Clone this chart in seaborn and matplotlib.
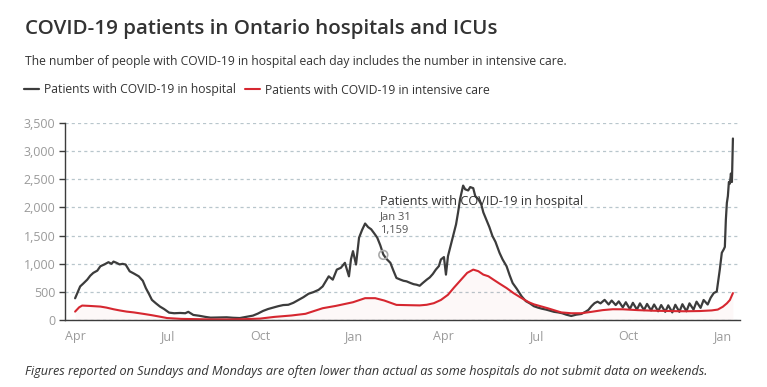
import pandas as pd
import matplotlib.pyplot as plt
import matplotlib.ticker as mticker
import seaborn as sns

# --- data ---
hosp_dates = [
    "2020-04-01", "2020-04-06", "2020-04-09", "2020-04-13", "2020-04-16", "2020-04-19",
    "2020-04-23", "2020-04-26", "2020-04-30", "2020-05-04", "2020-05-07", "2020-05-09",
    "2020-05-12", "2020-05-15", "2020-05-18", "2020-05-21", "2020-05-25", "2020-05-29",
    "2020-06-03", "2020-06-07", "2020-06-10", "2020-06-13", "2020-06-16", "2020-06-20",
    "2020-06-24", "2020-06-28", "2020-07-03", "2020-07-08", "2020-07-14", "2020-07-19",
    "2020-07-22", "2020-07-27", "2020-08-02", "2020-08-08", "2020-08-13", "2020-08-20",
    "2020-08-29", "2020-09-04", "2020-09-11", "2020-09-17", "2020-09-24", "2020-09-29",
    "2020-10-04", "2020-10-09", "2020-10-14", "2020-10-19", "2020-10-24", "2020-10-29",
    "2020-11-03", "2020-11-08", "2020-11-13", "2020-11-18", "2020-11-23", "2020-11-28",
    "2020-12-02", "2020-12-08", "2020-12-12", "2020-12-16", "2020-12-20", "2020-12-24",
    "2020-12-28", "2020-12-30", "2021-01-01", "2021-01-04", "2021-01-07", "2021-01-10",
    "2021-01-13", "2021-01-16", "2021-01-19", "2021-01-22", "2021-01-25", "2021-01-28",
    "2021-01-31", "2021-02-03", "2021-02-07", "2021-02-10", "2021-02-13", "2021-02-17",
    "2021-02-20", "2021-02-23", "2021-02-27", "2021-03-02", "2021-03-05", "2021-03-08",
    "2021-03-11", "2021-03-15", "2021-03-18", "2021-03-21", "2021-03-24", "2021-03-27",
    "2021-03-29", "2021-04-01", "2021-04-03", "2021-04-05", "2021-04-08", "2021-04-10",
    "2021-04-13", "2021-04-15", "2021-04-17", "2021-04-20", "2021-04-22", "2021-04-25",
    "2021-04-27", "2021-04-30", "2021-05-02", "2021-05-05", "2021-05-08", "2021-05-10",
    "2021-05-13", "2021-05-16", "2021-05-19", "2021-05-22", "2021-05-26", "2021-05-29",
    "2021-06-02", "2021-06-05", "2021-06-08", "2021-06-12", "2021-06-17", "2021-06-21",
    "2021-06-25", "2021-06-29", "2021-07-03", "2021-07-07", "2021-07-11", "2021-07-15",
    "2021-07-19", "2021-07-23", "2021-07-27", "2021-07-31", "2021-08-05", "2021-08-10",
    "2021-08-15", "2021-08-19", "2021-08-22", "2021-08-25", "2021-08-28", "2021-08-31",
    "2021-09-03", "2021-09-07", "2021-09-11", "2021-09-14", "2021-09-18", "2021-09-21",
    "2021-09-25", "2021-09-28", "2021-10-02", "2021-10-05", "2021-10-09", "2021-10-12",
    "2021-10-16", "2021-10-19", "2021-10-23", "2021-10-26", "2021-10-30", "2021-11-02",
    "2021-11-06", "2021-11-09", "2021-11-13", "2021-11-16", "2021-11-20", "2021-11-23",
    "2021-11-27", "2021-11-30", "2021-12-04", "2021-12-07", "2021-12-11", "2021-12-14",
    "2021-12-18", "2021-12-21", "2021-12-24", "2021-12-27", "2021-12-30", "2022-01-01",
    "2022-01-03", "2022-01-04", "2022-01-05", "2022-01-06", "2022-01-07", "2022-01-08",
    "2022-01-09", "2022-01-10", "2022-01-11", "2022-01-12",
]
hosp_values = [
    390, 600, 650, 720, 790, 840,
    880, 957, 990, 1029, 1000, 1040,
    1018, 990, 1000, 988, 868, 830,
    779, 700, 571, 470, 362, 300,
    243, 200, 136, 125, 130, 125,
    150, 95, 80, 60, 47, 50,
    53, 45, 40, 60, 83, 120,
    166, 200, 225, 250, 270, 275,
    310, 360, 410, 470, 500, 540,
    600, 779, 720, 898, 930, 1018,
    779, 1080, 1225, 988, 1464, 1600,
    1714, 1650, 1612, 1540, 1464, 1330,
    1166, 1090, 1018, 880, 750, 720,
    700, 690, 660, 640, 630, 612,
    660, 720, 760, 820, 898, 960,
    1077, 1120, 809, 1136, 1350, 1493,
    1700, 1911, 2150, 2386, 2320, 2300,
    2360, 2340, 2200, 2148, 2050, 1911,
    1780, 1650, 1493, 1390, 1196, 1080,
    957, 800, 660, 560, 422, 340,
    300, 250, 225, 205, 190, 170,
    150, 140, 125, 100, 77, 100,
    112, 150, 184, 250, 303, 330,
    300, 362, 280, 350, 270, 335,
    230, 320, 200, 310, 190, 300,
    180, 290, 175, 280, 160, 270,
    150, 265, 140, 275, 150, 285,
    160, 300, 190, 330, 220, 360,
    280, 400, 482, 510, 898, 1196,
    1260, 1300, 1780, 2080, 2200, 2450,
    2420, 2600, 2450, 3220,
]

icu_dates = [
    "2020-04-01", "2020-04-05", "2020-04-08", "2020-04-15", "2020-04-26", "2020-05-02",
    "2020-05-09", "2020-05-15", "2020-05-22", "2020-05-29", "2020-06-08", "2020-06-16",
    "2020-06-24", "2020-07-01", "2020-07-15", "2020-08-01", "2020-08-15", "2020-09-01",
    "2020-09-15", "2020-10-01", "2020-10-15", "2020-11-01", "2020-11-15", "2020-12-02",
    "2020-12-15", "2021-01-01", "2021-01-13", "2021-01-23", "2021-02-01", "2021-02-13",
    "2021-02-25", "2021-03-08", "2021-03-15", "2021-03-22", "2021-03-29", "2021-04-05",
    "2021-04-11", "2021-04-18", "2021-04-24", "2021-04-30", "2021-05-05", "2021-05-10",
    "2021-05-15", "2021-05-20", "2021-05-26", "2021-06-02", "2021-06-09", "2021-06-17",
    "2021-06-24", "2021-06-29", "2021-07-13", "2021-07-26", "2021-08-05", "2021-08-15",
    "2021-08-25", "2021-09-05", "2021-09-15", "2021-09-25", "2021-10-10", "2021-10-25",
    "2021-11-10", "2021-11-25", "2021-12-10", "2021-12-22", "2021-12-28", "2022-01-02",
    "2022-01-06", "2022-01-09", "2022-01-12",
]
icu_values = [
    154, 230, 261, 255, 243, 225,
    196, 175, 154, 140, 113, 90,
    64, 40, 25, 20, 15, 15,
    20, 30, 60, 85, 115, 214,
    255, 320, 392, 392, 350, 273,
    268, 264, 275, 303, 360, 452,
    580, 720, 840, 898, 870, 809,
    780, 720, 650, 571, 480, 392,
    320, 283, 212, 140, 125, 125,
    150, 180, 196, 195, 180, 170,
    164, 160, 164, 175, 190, 240,
    300, 360, 482,
]

tick_dates = ["2020-04-01", "2020-07-01", "2020-10-01", "2021-01-01",
              "2021-04-01", "2021-07-01", "2021-10-01", "2022-01-01"]
tick_labels = ["Apr", "Jul", "Oct", "Jan", "Apr", "Jul", "Oct", "Jan"]
y_ticks = [0, 500, 1000, 1500, 2000, 2500, 3000, 3500]

hover_date = "2021-01-31"
hover_value = 1159

hosp = pd.DataFrame({"date": pd.to_datetime(hosp_dates), "value": hosp_values})
icu = pd.DataFrame({"date": pd.to_datetime(icu_dates), "value": icu_values})

DARK = "#3c3c3c"
RED = "#d62730"
TXT = "#333333"
GREY = "#9a9a9a"

sns.set_theme(style="white")
plt.rcParams["font.family"] = ["Open Sans", "DejaVu Sans"]

fig = plt.figure(figsize=(7.67, 3.87), dpi=100)
ax = fig.add_axes([65 / 767, 1 - 320.3 / 387, 675 / 767, 197.6 / 387])

ax.fill_between(icu["date"], icu["value"], 0, color=RED, alpha=0.03, lw=0)
sns.lineplot(data=hosp, x="date", y="value", ax=ax, color=DARK, lw=1.6,
             label="Patients with COVID-19 in hospital")
sns.lineplot(data=icu, x="date", y="value", ax=ax, color=RED, lw=1.5,
             label="Patients with COVID-19 in intensive care")

ax.set_xlim(pd.Timestamp("2020-03-22"), pd.Timestamp("2022-01-19"))
ax.set_ylim(0, 3500)
ax.set_xlabel("")
ax.set_ylabel("")

ax.set_yticks(y_ticks)
ax.yaxis.set_major_formatter(mticker.FuncFormatter(lambda v, p: f"{int(v):,}"))
ax.set_xticks(pd.to_datetime(tick_dates))
ax.set_xticklabels(tick_labels)
ax.tick_params(axis="y", which="major", left=True, length=4, width=1, color=DARK,
               labelsize=9, labelcolor=GREY, pad=3)
ax.tick_params(axis="x", which="major", bottom=False, labelsize=9, labelcolor=GREY, pad=1)

ax.grid(axis="y", color="#b8c6cc", lw=0.9, ls=(0, (2.5, 2.5)))
ax.grid(axis="x", visible=False)
for s in ["top", "right"]:
    ax.spines[s].set_visible(False)
for s in ["left", "bottom"]:
    ax.spines[s].set_color(DARK)
    ax.spines[s].set_linewidth(1)

# hover annotation
hx = pd.Timestamp(hover_date)
ax.scatter([hx], [hover_value], s=40, facecolors="none", edgecolors="#aaaaaa", lw=1.2, zorder=5)
ax.annotate("Patients with COVID-19 in hospital", xy=(hx, hover_value), xytext=(-3, 53),
            textcoords="offset pixels", ha="left", va="center", fontsize=9.2, color=TXT)
ax.annotate("Jan 31", xy=(hx, hover_value), xytext=(-3, 38),
            textcoords="offset pixels", ha="left", va="center", fontsize=8, color="#555555")
ax.annotate(f"{hover_value:,}", xy=(hx, hover_value), xytext=(-3, 24),
            textcoords="offset pixels", ha="left", va="center", fontsize=8, color="#555555")

handles, labels = ax.get_legend_handles_labels()
ax.get_legend().remove()
fig.legend(handles, labels, loc="center left", bbox_to_anchor=(24 / 767, 1 - 90 / 387),
           ncol=2, frameon=False, fontsize=8.75, handlelength=1.2, handletextpad=0.45,
           columnspacing=0.75, labelcolor=TXT, borderpad=0, borderaxespad=0)

fig.text(25 / 767, 1 - 29 / 387, "COVID-19 patients in Ontario hospitals and ICUs",
         fontsize=14.75, fontweight="semibold", color=TXT, va="center", ha="left")
fig.text(25 / 767, 1 - 62 / 387,
         "The number of people with COVID-19 in hospital each day includes the number in intensive care.",
         fontsize=8.73, color=TXT, va="center", ha="left")
fig.text(25 / 767, 1 - 372 / 387,
         "Figures reported on Sundays and Mondays are often lower than actual as some hospitals do not submit data on weekends.",
         fontsize=9.08, style="italic", color=TXT, va="center", ha="left")

fig.savefig("out.png", dpi=100)
